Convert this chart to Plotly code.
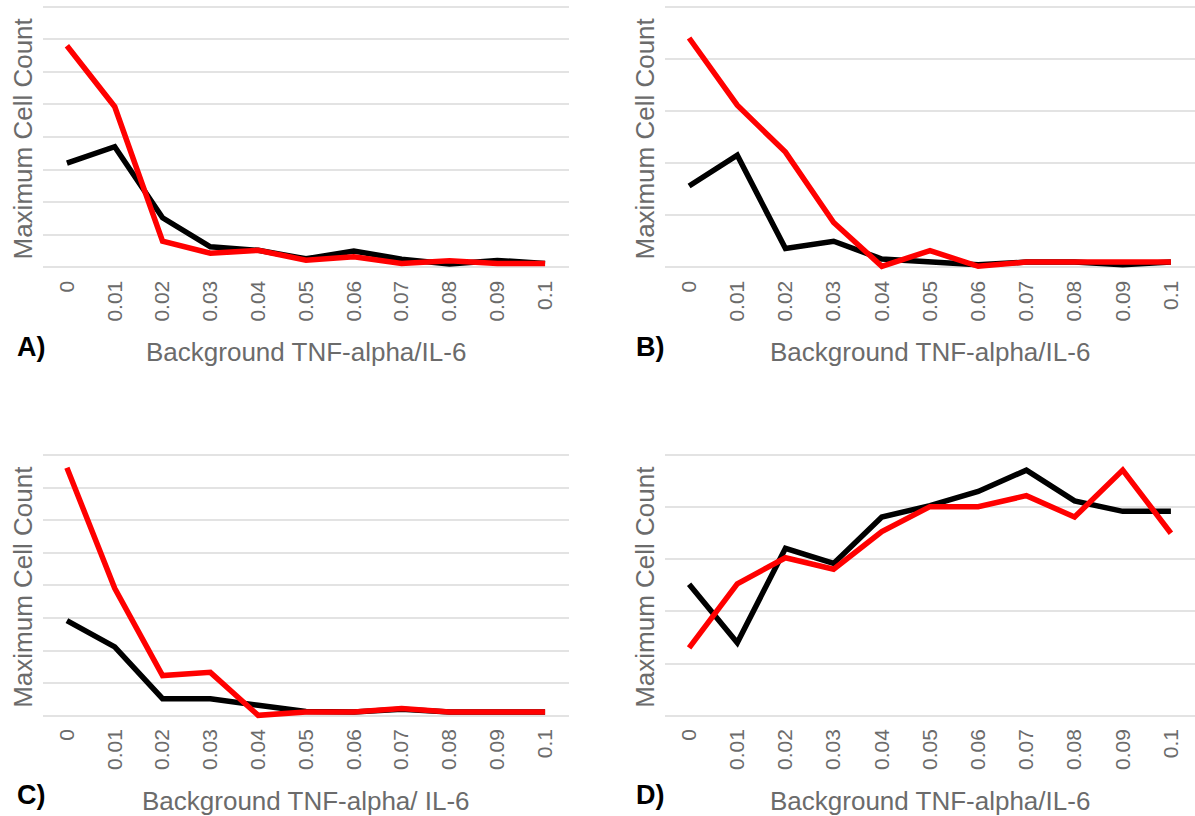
import plotly.graph_objects as go

# ---------------- data ----------------
x_labels = ["0", "0.01", "0.02", "0.03", "0.04", "0.05", "0.06", "0.07", "0.08", "0.09", "0.1"]

a_black = [3.2, 3.7, 1.52, 0.63, 0.52, 0.26, 0.5, 0.25, 0.1, 0.21, 0.12]
a_red   = [6.8, 4.93, 0.8, 0.43, 0.52, 0.22, 0.32, 0.12, 0.2, 0.12, 0.12]

b_black = [1.56, 2.15, 0.36, 0.5, 0.16, 0.1, 0.05, 0.1, 0.1, 0.05, 0.1]
b_red   = [4.4, 3.11, 2.21, 0.86, 0.02, 0.32, 0.02, 0.1, 0.1, 0.1, 0.1]

c_black = [2.92, 2.11, 0.52, 0.52, 0.32, 0.13, 0.11, 0.2, 0.11, 0.11, 0.11]
c_red   = [7.61, 3.91, 1.23, 1.33, 0.01, 0.11, 0.11, 0.22, 0.11, 0.11, 0.11]

d_black = [2.52, 1.4, 3.21, 2.92, 3.81, 4.03, 4.3, 4.71, 4.12, 3.92, 3.92]
d_red   = [1.3, 2.53, 3.03, 2.81, 3.53, 4.01, 4.01, 4.22, 3.81, 4.71, 3.5]

panel_labels = ["A)", "B)", "C)", "D)"]
x_titles = ["Background TNF-alpha/IL-6", "Background TNF-alpha/IL-6",
            "Background TNF-alpha/ IL-6", "Background TNF-alpha/IL-6"]
y_title = "Maximum Cell Count"

# ---------------- layout helpers ----------------
W, H = 1195, 816
def px_x(p):
    return p / W
def px_y(p):
    return 1 - p / H

TEXT = "#6b6b6b"
FONT = "Liberation Sans"

panels = [
    dict(data=(a_black, a_red), xdom=(43, 569), ydom=(1.5, 275.5), yr=(-0.252, 8.16)),
    dict(data=(b_black, b_red), xdom=(665, 1195), ydom=(1.5, 275.5), yr=(-0.157, 5.1)),
    dict(data=(c_black, c_red), xdom=(43, 569), ydom=(449.8, 723.9), yr=(-0.252, 8.16)),
    dict(data=(d_black, d_red), xdom=(665, 1195), ydom=(449.8, 723.9), yr=(-0.157, 5.1)),
]

fig = go.Figure()
layout = dict(
    width=W, height=H,
    margin=dict(l=0, r=0, t=0, b=0),
    paper_bgcolor="white", plot_bgcolor="white",
    showlegend=False,
    font=dict(family=FONT, color=TEXT),
    annotations=[],
)

for i, p in enumerate(panels):
    k = "" if i == 0 else str(i + 1)
    xa, ya = "x" + k, "y" + k
    black, red = p["data"]
    fig.add_trace(go.Scatter(x=x_labels, y=black, mode="lines",
                             line=dict(color="#000000", width=5.5),
                             xaxis=xa, yaxis=ya, hoverinfo="skip"))
    fig.add_trace(go.Scatter(x=x_labels, y=red, mode="lines",
                             line=dict(color="#ff0000", width=5.5),
                             xaxis=xa, yaxis=ya, hoverinfo="skip"))
    layout["xaxis" + k] = dict(
        domain=[px_x(p["xdom"][0]), px_x(p["xdom"][1])],
        anchor=ya, type="category", range=[-0.5, 10.5],
        showgrid=False, zeroline=False, showline=False, ticks="",
        tickangle=-90, tickfont=dict(size=21, color=TEXT, family=FONT),
        fixedrange=True,
    )
    layout["yaxis" + k] = dict(
        domain=[px_y(p["ydom"][1]), px_y(p["ydom"][0])],
        anchor=xa, range=list(p["yr"]),
        tick0=0, dtick=1, showgrid=True, gridcolor="#e3e3e3", gridwidth=2,
        zeroline=False, showline=False, ticks="", showticklabels=False,
        fixedrange=True,
    )
    x0, x1 = p["xdom"]
    y0, y1 = p["ydom"]
    cx = (x0 + x1) / 2
    cy = (y0 + y1) / 2
    title_y = 352 if i < 2 else 801
    lab_y = 347 if i < 2 else 795
    lab_x = 15 if i % 2 == 0 else 634
    ytitle_x = x0 - 20
    layout["annotations"] += [
        dict(text=x_titles[i], x=px_x(cx), y=px_y(title_y), xref="paper", yref="paper",
             xanchor="center", yanchor="middle", showarrow=False,
             font=dict(size=26, color=TEXT, family=FONT)),
        dict(text=y_title, x=px_x(ytitle_x), y=px_y(cy), xref="paper", yref="paper",
             xanchor="center", yanchor="middle", showarrow=False, textangle=-90,
             font=dict(size=26, color=TEXT, family=FONT)),
        dict(text="<b>" + panel_labels[i] + "</b>", x=px_x(lab_x), y=px_y(lab_y),
             xref="paper", yref="paper", xanchor="left", yanchor="middle",
             showarrow=False, font=dict(size=27, color="#000000", family=FONT)),
    ]

fig.update_layout(**layout)
fig.write_html("out.html", config={"displayModeBar": False})
